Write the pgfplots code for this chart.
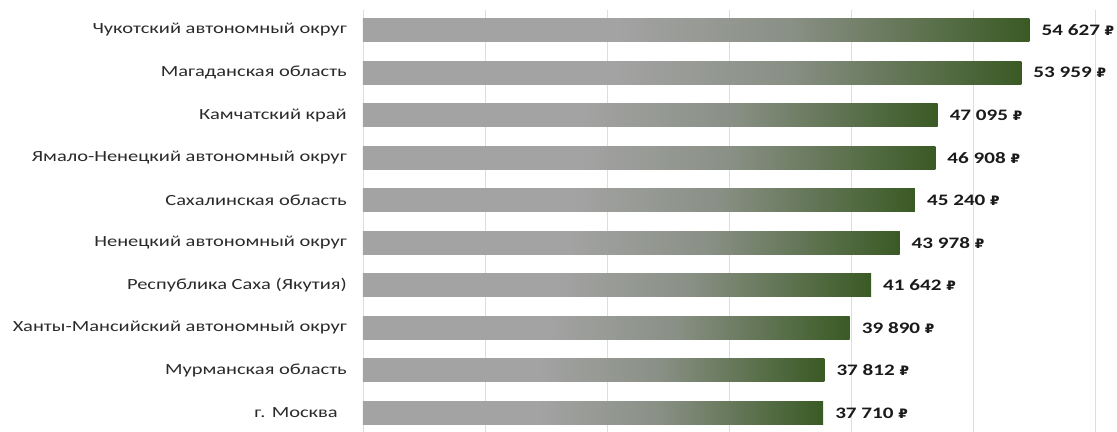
\documentclass[border=0pt]{standalone}
\usepackage{pgfplots}
\pgfplotsset{compat=1.18}
\usepackage{fontspec}
\setmainfont{Carlito}[FakeStretch=1.32]
\newfontfamily\rub{DejaVu Sans}[FakeStretch=1.05]
\definecolor{barg}{HTML}{A3A3A3}
\definecolor{barm}{HTML}{8A9086}
\definecolor{bargr}{HTML}{3A5A24}
\definecolor{gridc}{HTML}{DDDDDD}
\definecolor{labc}{HTML}{2A2A2A}
\definecolor{valc}{HTML}{1A1A1A}
\pgfdeclarehorizontalshading{barshade}{100bp}{color(0bp)=(barg); color(25bp)=(barg); color(44bp)=(barg); color(57bp)=(barm); color(75bp)=(bargr); color(100bp)=(bargr)}
\begin{document}
\begin{tikzpicture}
\path[use as bounding box] (-363bp,0bp) rectangle (754bp,432bp);
\begin{axis}[
  at={(0,0)}, anchor=south west,
  scale only axis, width=732bp, height=422bp,
  xmin=0, xmax=60000, ymin=-0.47, ymax=9.45,
  y dir=reverse,
  xtick={0,10000,...,60000}, xticklabel=\empty,
  xmajorgrids, grid style={gridc, line width=0.8bp},
  ytick={0,...,9},
  yticklabels={Чукотский автономный округ, Магаданская область, Камчатский край, Ямало-Ненецкий автономный округ, Сахалинская область, Ненецкий автономный округ, Республика Саха (Якутия), Ханты-Мансийский автономный округ, Мурманская область, {г. Москва\hspace*{9bp}}},
  yticklabel style={font=\fontsize{15.5bp}{17bp}\selectfont, text=labc, inner sep=0pt, xshift=-16bp},
  major tick length=0pt,
  axis line style={draw=none},
  tick style={draw=none},
  xbar, bar width=23bp, bar shift=0pt,
  point meta=explicit symbolic,
  nodes near coords={\pgfplotspointmeta~{\rub\fontsize{13bp}{15bp}\selectfont ₽}},
  nodes near coords style={font=\fontsize{16bp}{18bp}\selectfont\bfseries, text=valc, inner sep=0pt, xshift=12bp, anchor=west},
  every axis plot/.append style={draw=none, shading=barshade},
  clip=false,
]
\addplot coordinates {(54627,0) [54 627]};
\addplot coordinates {(53959,1) [53 959]};
\addplot coordinates {(47095,2) [47 095]};
\addplot coordinates {(46908,3) [46 908]};
\addplot coordinates {(45240,4) [45 240]};
\addplot coordinates {(43978,5) [43 978]};
\addplot coordinates {(41642,6) [41 642]};
\addplot coordinates {(39890,7) [39 890]};
\addplot coordinates {(37812,8) [37 812]};
\addplot coordinates {(37710,9) [37 710]};
\end{axis}
\end{tikzpicture}
\end{document}
